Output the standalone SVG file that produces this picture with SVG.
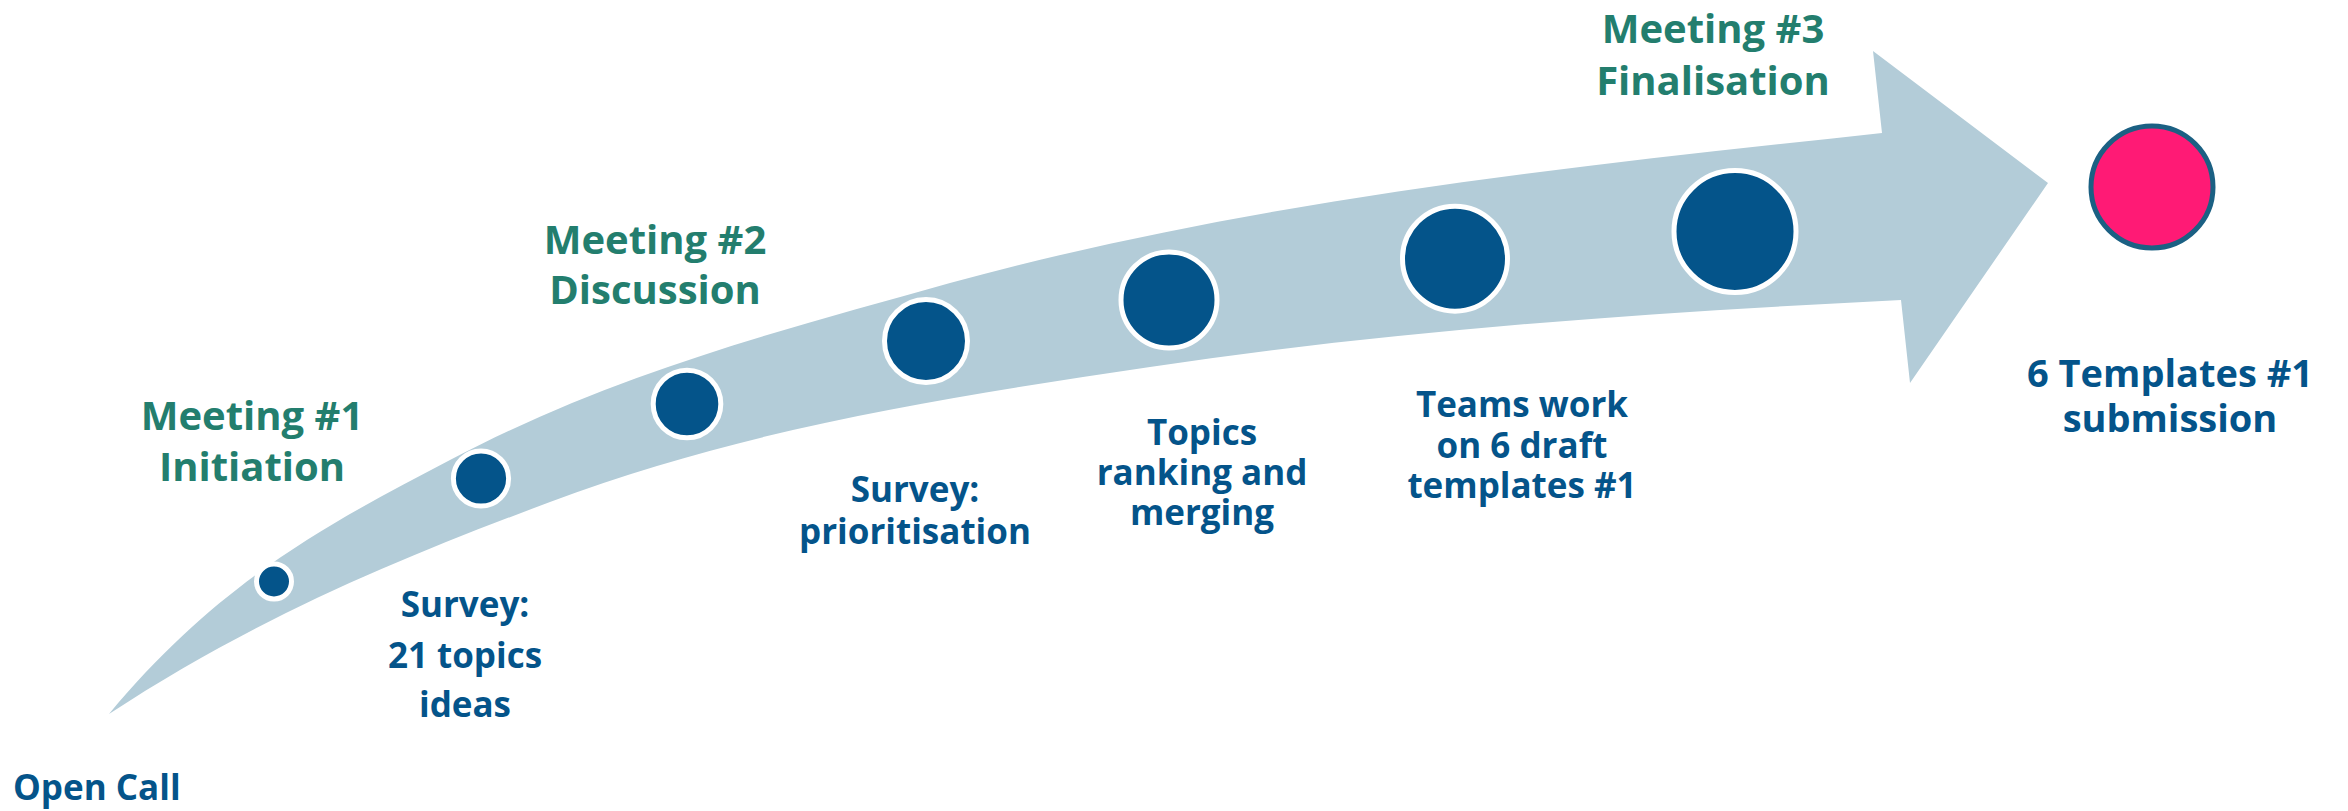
<svg xmlns="http://www.w3.org/2000/svg" width="2348" height="811" viewBox="0 0 2348 811">
<style>
.m{font-family:"Open Sans","Noto Sans",sans-serif;font-weight:700;font-size:40px;fill:#237E6E;text-anchor:middle}
.b{font-family:"Open Sans","Noto Sans",sans-serif;font-weight:700;font-size:35px;fill:#04548A;text-anchor:middle}
.dot{fill:#04548A;stroke:#FFFFFF;stroke-width:5}
</style>
<rect width="2348" height="811" fill="#FFFFFF"/>
<g id="connectors">
<path id="arrow" fill="#B3CCD8" d="M109,714 C223,577 336,520 450,460 C617,372 783,330 950,283 C1261,198 1571,167 1882,133 L1873,51 L2048,183 L1910,383 L1901,300 C1651,312.5 1400,329.5 1150,367 C950,397 750,427 550,502 C403,557 256,617 109,714 Z"/>
</g>
<g id="n1"><circle class="dot" cx="274" cy="581.5" r="17.5"/></g>
<g id="n2"><circle class="dot" cx="481" cy="478.5" r="27.6"/></g>
<g id="n3"><circle class="dot" cx="687" cy="404" r="33.8"/></g>
<g id="n4"><circle class="dot" cx="926" cy="341" r="41.5"/></g>
<g id="n5"><circle class="dot" cx="1169" cy="300" r="48"/></g>
<g id="n6"><circle class="dot" cx="1455" cy="258.7" r="52.5"/></g>
<g id="n7"><circle class="dot" cx="1735" cy="231.5" r="61"/></g>
<g id="end"><circle cx="2152" cy="187" r="61" fill="#FF1A75" stroke="#1B6083" stroke-width="5"/></g>
<g id="open-call"><text class="b" x="13" y="800" style="text-anchor:start">Open Call</text></g>
<g id="meeting1"><text class="m" x="252" y="430">Meeting #1</text><text class="m" x="252" y="481">Initiation</text></g>
<g id="meeting2"><text class="m" x="655" y="253.5">Meeting #2</text><text class="m" x="655" y="304">Discussion</text></g>
<g id="meeting3"><text class="m" x="1713" y="43">Meeting #3</text><text class="m" x="1713" y="94.5">Finalisation</text></g>
<g id="survey1"><text class="b" x="465" y="617">Survey:</text><text class="b" x="465" y="668">21 topics</text><text class="b" x="465" y="717">ideas</text></g>
<g id="survey2"><text class="b" x="915" y="502">Survey:</text><text class="b" x="915" y="543.5">prioritisation</text></g>
<g id="topics"><text class="b" x="1202" y="445">Topics</text><text class="b" x="1202" y="485">ranking and</text><text class="b" x="1202" y="525">merging</text></g>
<g id="teams"><text class="b" x="1522" y="416.5">Teams work</text><text class="b" x="1522" y="458">on 6 draft</text><text class="b" x="1522" y="497.5">templates #1</text></g>
<g id="templates"><text class="b" x="2170" y="387" style="font-size:38px">6 Templates #1</text><text class="b" x="2170" y="432" style="font-size:38px">submission</text></g>
</svg>
